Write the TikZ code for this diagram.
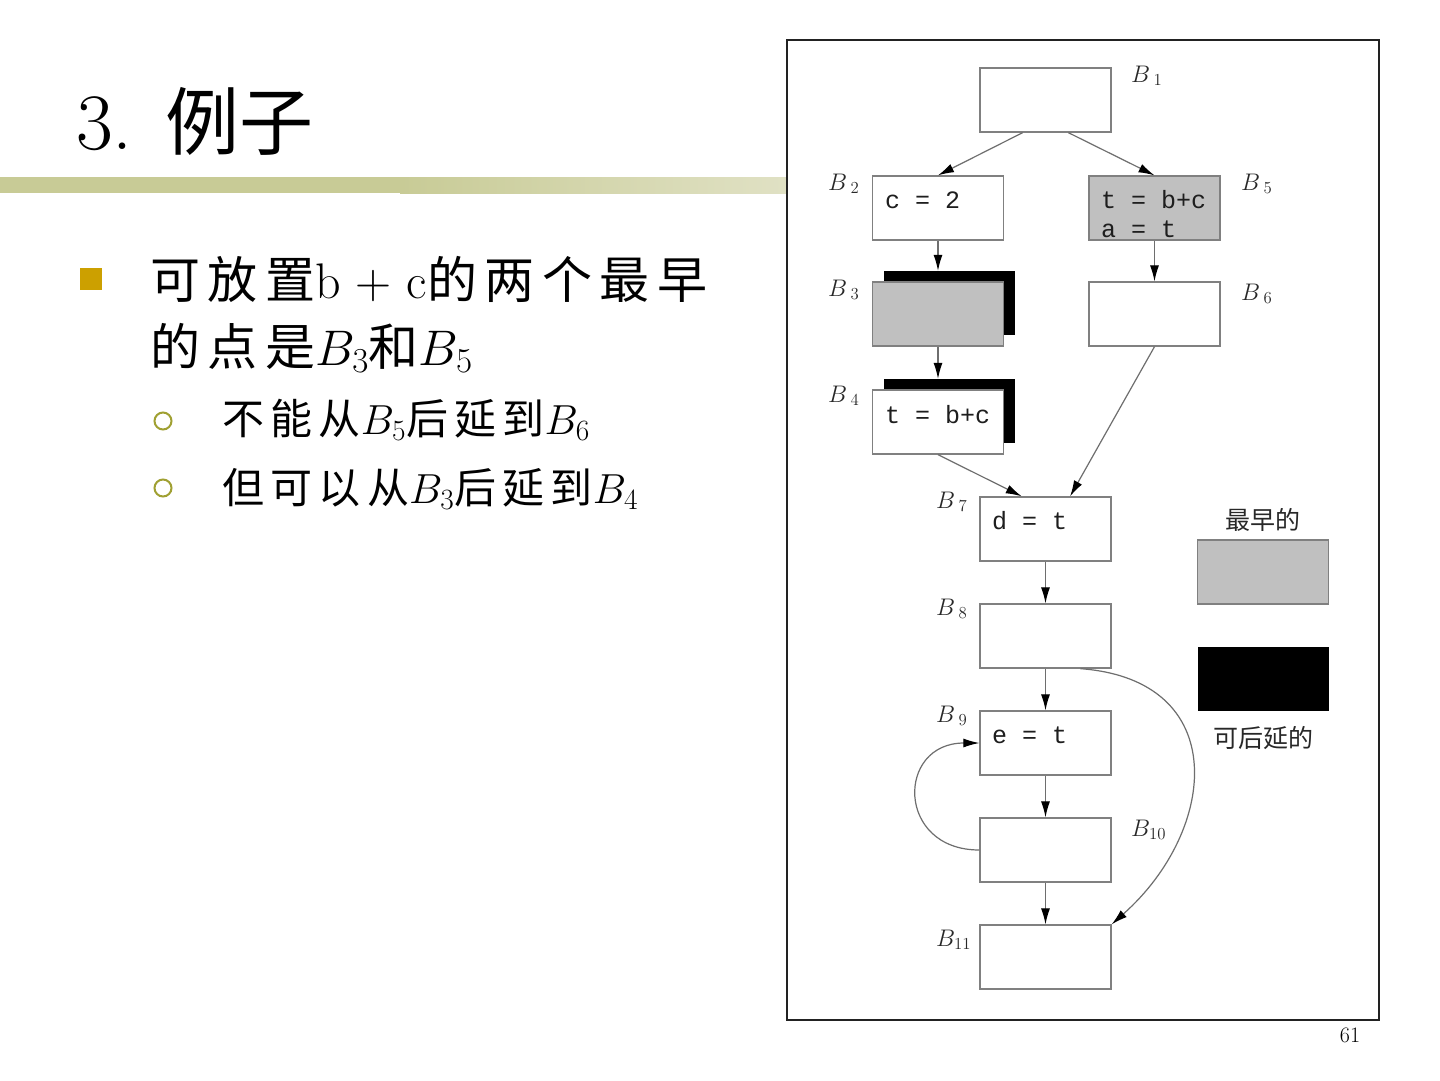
\RequirePackage{fix-cm}
\documentclass[tikz,border=0pt]{standalone}
\usepackage{fontspec}
\setmonofont{Liberation Mono}
\newfontfamily\cjk[LetterSpace=15]{Noto Sans CJK SC}
\newfontfamily\cjklg{Noto Sans CJK SC}
\usetikzlibrary{arrows.meta, positioning, calc}

\definecolor{boxgray}{RGB}{128,128,128}
\definecolor{earlygray}{RGB}{192,192,192}
\definecolor{linegray}{RGB}{110,110,110}
\definecolor{codegray}{RGB}{30,30,30}
\definecolor{lblgray}{RGB}{40,40,40}
\definecolor{barL}{RGB}{200,203,150}
\definecolor{barR}{RGB}{224,225,196}
\definecolor{bulgold}{RGB}{204,160,0}
\definecolor{ringolive}{RGB}{160,160,50}
\definecolor{framecol}{RGB}{34,34,34}

\newcommand{\zh}[1]{{\cjk #1}}

\begin{document}
\begin{tikzpicture}[x=1pt, y=-1pt,
    blk/.style={draw=boxgray, line width=1.3pt, fill=white, minimum width=131pt, minimum height=64pt, inner sep=0pt},
    early/.style={blk, fill=earlygray},
    latebox/.style={fill=black, minimum width=131pt, minimum height=64pt, inner sep=0pt},
    code/.style={font=\ttfamily\fontsize{25}{29}\selectfont, text=codegray, inner sep=0pt, anchor=base west},
    blbl/.style={font=\fontsize{24}{28}\selectfont, text=lblgray, inner sep=0pt, anchor=base west},
    flow/.style={draw=linegray, line width=1.2pt, -{Latex[length=16pt,width=9pt,color=black]}},
    bigtxt/.style={font=\fontsize{50}{60}\selectfont, inner sep=0pt, anchor=base west},
    smalltxt/.style={font=\fontsize{42}{50}\selectfont, inner sep=0pt, anchor=base west}
  ]
  \useasboundingbox (0,0) rectangle (1440,1080);
  \fill[white] (0,0) rectangle (1440,1080);

  % title and bar
  \node[font=\fontsize{80}{90}\selectfont, inner sep=0pt, anchor=base west] (title) at (76,149) {3. {\cjklg\fontsize{74}{90}\selectfont 例子}};
  \fill[barL] (0,177) rectangle (400,193);
  \shade[left color=barL, right color=barR] (400,177) rectangle (786,193);

  % bullets
  \node[fill=bulgold, minimum size=22pt, inner sep=0pt] (sq) at (91,279) {};
  \node[bigtxt] (l1) at (150,298) {\zh{可放置}b + c\zh{的两个最早}};
  \node[bigtxt] (l2) at (150,365) {\zh{的点是}$B_3$\zh{和}$B_5$};
  \node[circle, draw=ringolive, line width=2pt, minimum size=17pt, inner sep=0pt] (r1) at (163,421) {};
  \node[smalltxt] (s1) at (222,434) {\zh{不能从}$B_5$\zh{后延到}$B_6$};
  \node[circle, draw=ringolive, line width=2pt, minimum size=17pt, inner sep=0pt] (r2) at (163,488) {};
  \node[smalltxt] (s2) at (222,503) {\zh{但可以从}$B_3$\zh{后延到}$B_4$};

  % frame
  \draw[framecol, line width=2.5pt] (787,40) rectangle (1379,1020);

  % blocks
  \node[blk] (b1) at (1045.5,100) {};
  \node[blk] (b2) at (938,208) {};
  \node[early] (b5) at (1154.5,208) {};
  \node[latebox] (s3) at (949,303) {};
  \node[early] (b3) at (938,314) {};
  \node[blk] (b6) at (1154.5,314) {};
  \node[latebox] (s4) at (949,411) {};
  \node[blk] (b4) at (938,422) {};
  \node[blk] (b7) at (1045.5,529) {};
  \node[blk] (b8) at (1045.5,636) {};
  \node[blk] (b9) at (1045.5,743) {};
  \node[blk] (b10) at (1045.5,850) {};
  \node[blk] (b11) at (1045.5,957) {};

  \node[code] (c2) at (885,208) {c = 2};
  \node[code] (c5a) at (1101,208) {t = b+c};
  \node[code] (c5b) at (1101,237) {a = t};
  \node[code] (c4) at (885,423) {t = b+c};
  \node[code] (c7) at (992,529) {d = t};
  \node[code] (c9) at (992,743) {e = t};

  \node[blbl] (n1) at (1131,82) {$B_{\;1}$};
  \node[blbl] (n2) at (828,190) {$B_{\;2}$};
  \node[blbl] (n5) at (1241,190) {$B_{\;5}$};
  \node[blbl] (n3) at (828,296) {$B_{\;3}$};
  \node[blbl] (n6) at (1241,300) {$B_{\;6}$};
  \node[blbl] (n4) at (828,402) {$B_{\;4}$};
  \node[blbl] (n7) at (936,508) {$B_{\;7}$};
  \node[blbl] (n8) at (936,615) {$B_{\;8}$};
  \node[blbl] (n9) at (936,722) {$B_{\;9}$};
  \node[blbl] (n10) at (1131,836) {$B_{10}$};
  \node[blbl] (n11) at (936,946) {$B_{11}$};

  % edges
  \draw[flow] (b1.235) -- (b2.north);
  \draw[flow] (b1.305) -- (b5.north);
  \draw[flow] (b2.south) -- (b2.south |- s3.north);
  \draw[flow] (b5.south) -- (b6.north);
  \draw[flow] (b3.south) -- (b3.south |- s4.north);
  \draw[flow] (b4.south) -- (b7.126);
  \draw[flow] (b6.south) -- (b7.53);
  \draw[flow] (b7) -- (b8);
  \draw[flow] (b8) -- (b9);
  \draw[flow] (b9) -- (b10);
  \draw[flow] (b10) -- (b11);
  \draw[flow] (b10.west) to[out=180, in=180, looseness=2] (b9.west);
  \draw[flow] (b8.-43) .. controls (1232,680) and (1218,830) .. (b11.north east);

  % legend
  \node[font=\cjklg\fontsize{25}{28}\selectfont, text=lblgray] (k1) at (1263,520) {最早的};
  \node[early] (g1) at (1263,572) {};
  \node[latebox] (g2) at (1263,679) {};
  \node[font=\cjklg\fontsize{25}{28}\selectfont, text=lblgray] (k2) at (1263,738) {可后延的};

  \node[font=\fontsize{22}{26}\selectfont] (pg) at (1350,1035) {61};
\end{tikzpicture}
\end{document}
